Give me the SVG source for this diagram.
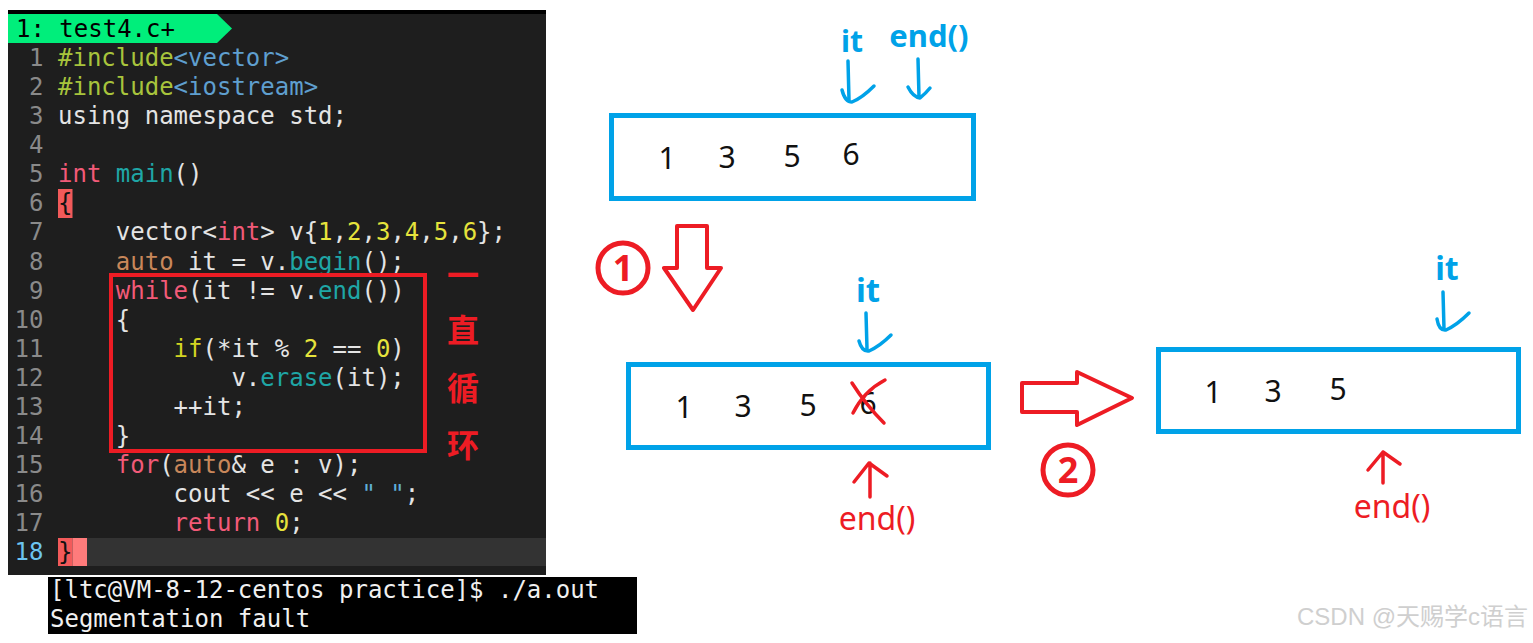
<svg xmlns="http://www.w3.org/2000/svg" width="1533" height="643" viewBox="0 0 1533 643">
<defs>
<style>
.code{font-family:"DejaVu Sans Mono","Liberation Mono",monospace;font-size:24px;fill:#e4e4e4;white-space:pre}
.ln{font-family:"DejaVu Sans Mono","Liberation Mono",monospace;font-size:24px;fill:#8a8a8a;text-anchor:end}
.kw{fill:#f25a78}
.fn{fill:#1fa6a6}
.num{fill:#e6e33c}
.inc{fill:#a8c43c}
.hdr{fill:#5f9fcf}
.au{fill:#c8875a}
.str{fill:#5fafd7}
.cyif{fill:#d4d422}
.dig{font-family:"Noto Sans","Open Sans",sans-serif;font-size:30px;fill:#111;text-anchor:middle}
.blab{font-family:"Noto Sans","Open Sans",sans-serif;font-weight:bold;fill:#00a2e8;text-anchor:middle}
.rlab{font-family:"Noto Sans","Open Sans",sans-serif;font-size:32px;fill:#ed1c24;text-anchor:middle}
.box{fill:#fff;stroke:#00a2e8;stroke-width:5}
.bpen{fill:none;stroke:#00a2e8;stroke-width:3.5;stroke-linecap:round;stroke-linejoin:round}
.rpen{fill:none;stroke:#ed1c24;stroke-width:3.5;stroke-linecap:round;stroke-linejoin:round}
.big{fill:#fff;stroke:#ed1c24;stroke-width:4;stroke-linejoin:round}
.circ{fill:none;stroke:#ed1c24;stroke-width:5}
.cnum{font-family:"Noto Sans","Open Sans",sans-serif;font-weight:bold;font-size:36px;fill:#ed1c24;text-anchor:middle}
.cjk{font-family:"Noto Sans CJK SC",sans-serif;font-weight:bold;font-size:32px;fill:#ed1c24;text-anchor:middle}
.term{font-family:"DejaVu Sans Mono","Liberation Mono",monospace;font-size:24px;fill:#f0f0f0;white-space:pre}
</style>
</defs>
<rect width="1533" height="643" fill="#fff"/>

<g id="code-panel">
<rect x="8" y="10" width="538" height="565" fill="#1e1e1e"/>
<rect x="8" y="10" width="538" height="4" fill="#000"/>
<polygon points="8,14 217,14 232,28.5 217,43 8,43" fill="#00ee7b"/>
<text class="code" x="16" y="37" style="fill:#000">1: test4.c+</text>
<rect x="58" y="538" width="488" height="28" fill="#333"/>
<rect x="58" y="189" width="14.5" height="29" fill="#f25a5a"/>
<rect x="58" y="538" width="14.5" height="28" fill="#f25a5a"/>
<rect x="72.5" y="538" width="14.5" height="28" fill="#ff7b7b"/>
<text class="ln" x="43.5" y="66">1</text>
<text class="ln" x="43.5" y="95.1">2</text>
<text class="ln" x="43.5" y="124.1">3</text>
<text class="ln" x="43.5" y="153.2">4</text>
<text class="ln" x="43.5" y="182.3">5</text>
<text class="ln" x="43.5" y="211.3">6</text>
<text class="ln" x="43.5" y="240.4">7</text>
<text class="ln" x="43.5" y="269.5">8</text>
<text class="ln" x="43.5" y="298.6">9</text>
<text class="ln" x="43.5" y="327.6">10</text>
<text class="ln" x="43.5" y="356.7">11</text>
<text class="ln" x="43.5" y="385.8">12</text>
<text class="ln" x="43.5" y="414.8">13</text>
<text class="ln" x="43.5" y="443.9">14</text>
<text class="ln" x="43.5" y="473">15</text>
<text class="ln" x="43.5" y="502">16</text>
<text class="ln" x="43.5" y="531.1">17</text>
<text class="ln" x="43.5" y="560.2" style="fill:#6cc4f0">18</text>
<text class="code" x="58" y="66"><tspan class="inc">#include</tspan><tspan class="hdr">&lt;vector&gt;</tspan></text>
<text class="code" x="58" y="95.1"><tspan class="inc">#include</tspan><tspan class="hdr">&lt;iostream&gt;</tspan></text>
<text class="code" x="58" y="124.1">using namespace std;</text>
<text class="code" x="58" y="182.3"><tspan class="kw">int</tspan> <tspan class="fn">main</tspan>()</text>
<text class="code" x="58" y="211.3" style="fill:#111">{</text>
<text class="code" x="58" y="240.4">    vector&lt;<tspan class="kw">int</tspan>&gt; v{<tspan class="num">1</tspan>,<tspan class="num">2</tspan>,<tspan class="num">3</tspan>,<tspan class="num">4</tspan>,<tspan class="num">5</tspan>,<tspan class="num">6</tspan>};</text>
<text class="code" x="58" y="269.5">    <tspan class="au">auto</tspan> it = v.<tspan class="fn">begin</tspan>();</text>
<text class="code" x="58" y="298.6">    <tspan class="kw">while</tspan>(it != v.<tspan class="fn">end</tspan>())</text>
<text class="code" x="58" y="327.6">    {</text>
<text class="code" x="58" y="356.7">        <tspan class="cyif">if</tspan>(*it % <tspan class="num">2</tspan> == <tspan class="num">0</tspan>)</text>
<text class="code" x="58" y="385.8">            v.<tspan class="fn">erase</tspan>(it);</text>
<text class="code" x="58" y="414.8">        ++it;</text>
<text class="code" x="58" y="443.9">    }</text>
<text class="code" x="58" y="473">    <tspan class="kw">for</tspan>(<tspan class="au">auto</tspan>&amp; e : v);</text>
<text class="code" x="58" y="502">        cout &lt;&lt; e &lt;&lt; <tspan class="str">" "</tspan>;</text>
<text class="code" x="58" y="531.1">        <tspan class="kw">return</tspan> <tspan class="num">0</tspan>;</text>
<text class="code" x="58" y="560.2" style="fill:#111">}</text>
</g>

<g id="loop-note">
<rect x="111" y="275" width="314" height="176" fill="none" stroke="#ed1c24" stroke-width="4"/>
<text class="cjk" x="463" y="287">一</text>
<text class="cjk" x="463" y="342">直</text>
<text class="cjk" x="463" y="400">循</text>
<text class="cjk" x="463" y="457">环</text>
</g>

<g id="terminal">
<rect x="48" y="577" width="589" height="57" fill="#000"/>
<text class="term" x="50" y="598">[ltc@VM-8-12-centos practice]$ ./a.out</text>
<text class="term" x="50" y="627">Segmentation fault</text>
</g>

<g id="vector-1">
<rect class="box" x="611.5" y="115.5" width="362" height="83"/>
<text class="dig" x="667" y="169">1</text>
<text class="dig" x="727" y="168">3</text>
<text class="dig" x="792" y="167">5</text>
<text class="dig" x="851" y="165">6</text>
<text class="blab" x="852" y="52" font-size="30">it</text>
<text class="blab" x="929" y="47" font-size="31">end()</text>
</g>

<g id="vector-2">
<rect class="box" x="628.5" y="364.5" width="360" height="83"/>
<text class="dig" x="684" y="418">1</text>
<text class="dig" x="743" y="417">3</text>
<text class="dig" x="808" y="416">5</text>
<text class="dig" x="868" y="414">6</text>
<path class="rpen" d="M852,383 Q866,405 884,423 M885,380 Q864,391 853,413"/>
<text class="blab" x="868" y="302" font-size="33">it</text>
<text class="rlab" x="877" y="530">end()</text>
</g>

<g id="vector-3">
<rect class="box" x="1158.5" y="349.5" width="360" height="82"/>
<text class="dig" x="1213" y="403">1</text>
<text class="dig" x="1273" y="402">3</text>
<text class="dig" x="1338" y="400">5</text>
<text class="blab" x="1447" y="280" font-size="32">it</text>
<text class="rlab" x="1392" y="518">end()</text>
</g>

<g id="step-1">
<circle class="circ" cx="623" cy="268" r="25"/>
<text class="cnum" x="623" y="281">1</text>
</g>
<g id="step-2">
<circle class="circ" cx="1068" cy="470" r="25"/>
<text class="cnum" x="1068" y="483">2</text>
</g>

<g id="connectors">
<polygon class="big" points="677,226 707,226 707,268 721,268 693,310 664,268 677,268"/>
<polygon class="big" points="1022,383 1077,383 1077,372 1132,398 1077,425 1077,412 1022,412"/>
<path class="bpen" d="M848,61 L849,100 M842,90 Q845,102 852,102 Q862,98 874,86"/>
<path class="bpen" d="M918,59 L919,97 M908,87 Q913,97 920,98 Q926,93 930,88"/>
<path class="bpen" d="M866,313 L867,349 M859,341 Q862,352 869,351 Q880,346 891,335"/>
<path class="bpen" d="M1443,292 L1444,329 M1437,319 Q1439,331 1446,330 Q1457,325 1469,313"/>
<path class="rpen" d="M870,497 L870,463 M854,482 L869,463 L887,476"/>
<path class="rpen" d="M1383,483 L1383,452 M1368,470 L1383,452 L1400,464"/>
</g>

<text x="1528" y="625" text-anchor="end" font-family="Liberation Sans, Noto Sans CJK SC, sans-serif" font-size="24" fill="#cfcfcf">CSDN @天赐学c语言</text>
</svg>
